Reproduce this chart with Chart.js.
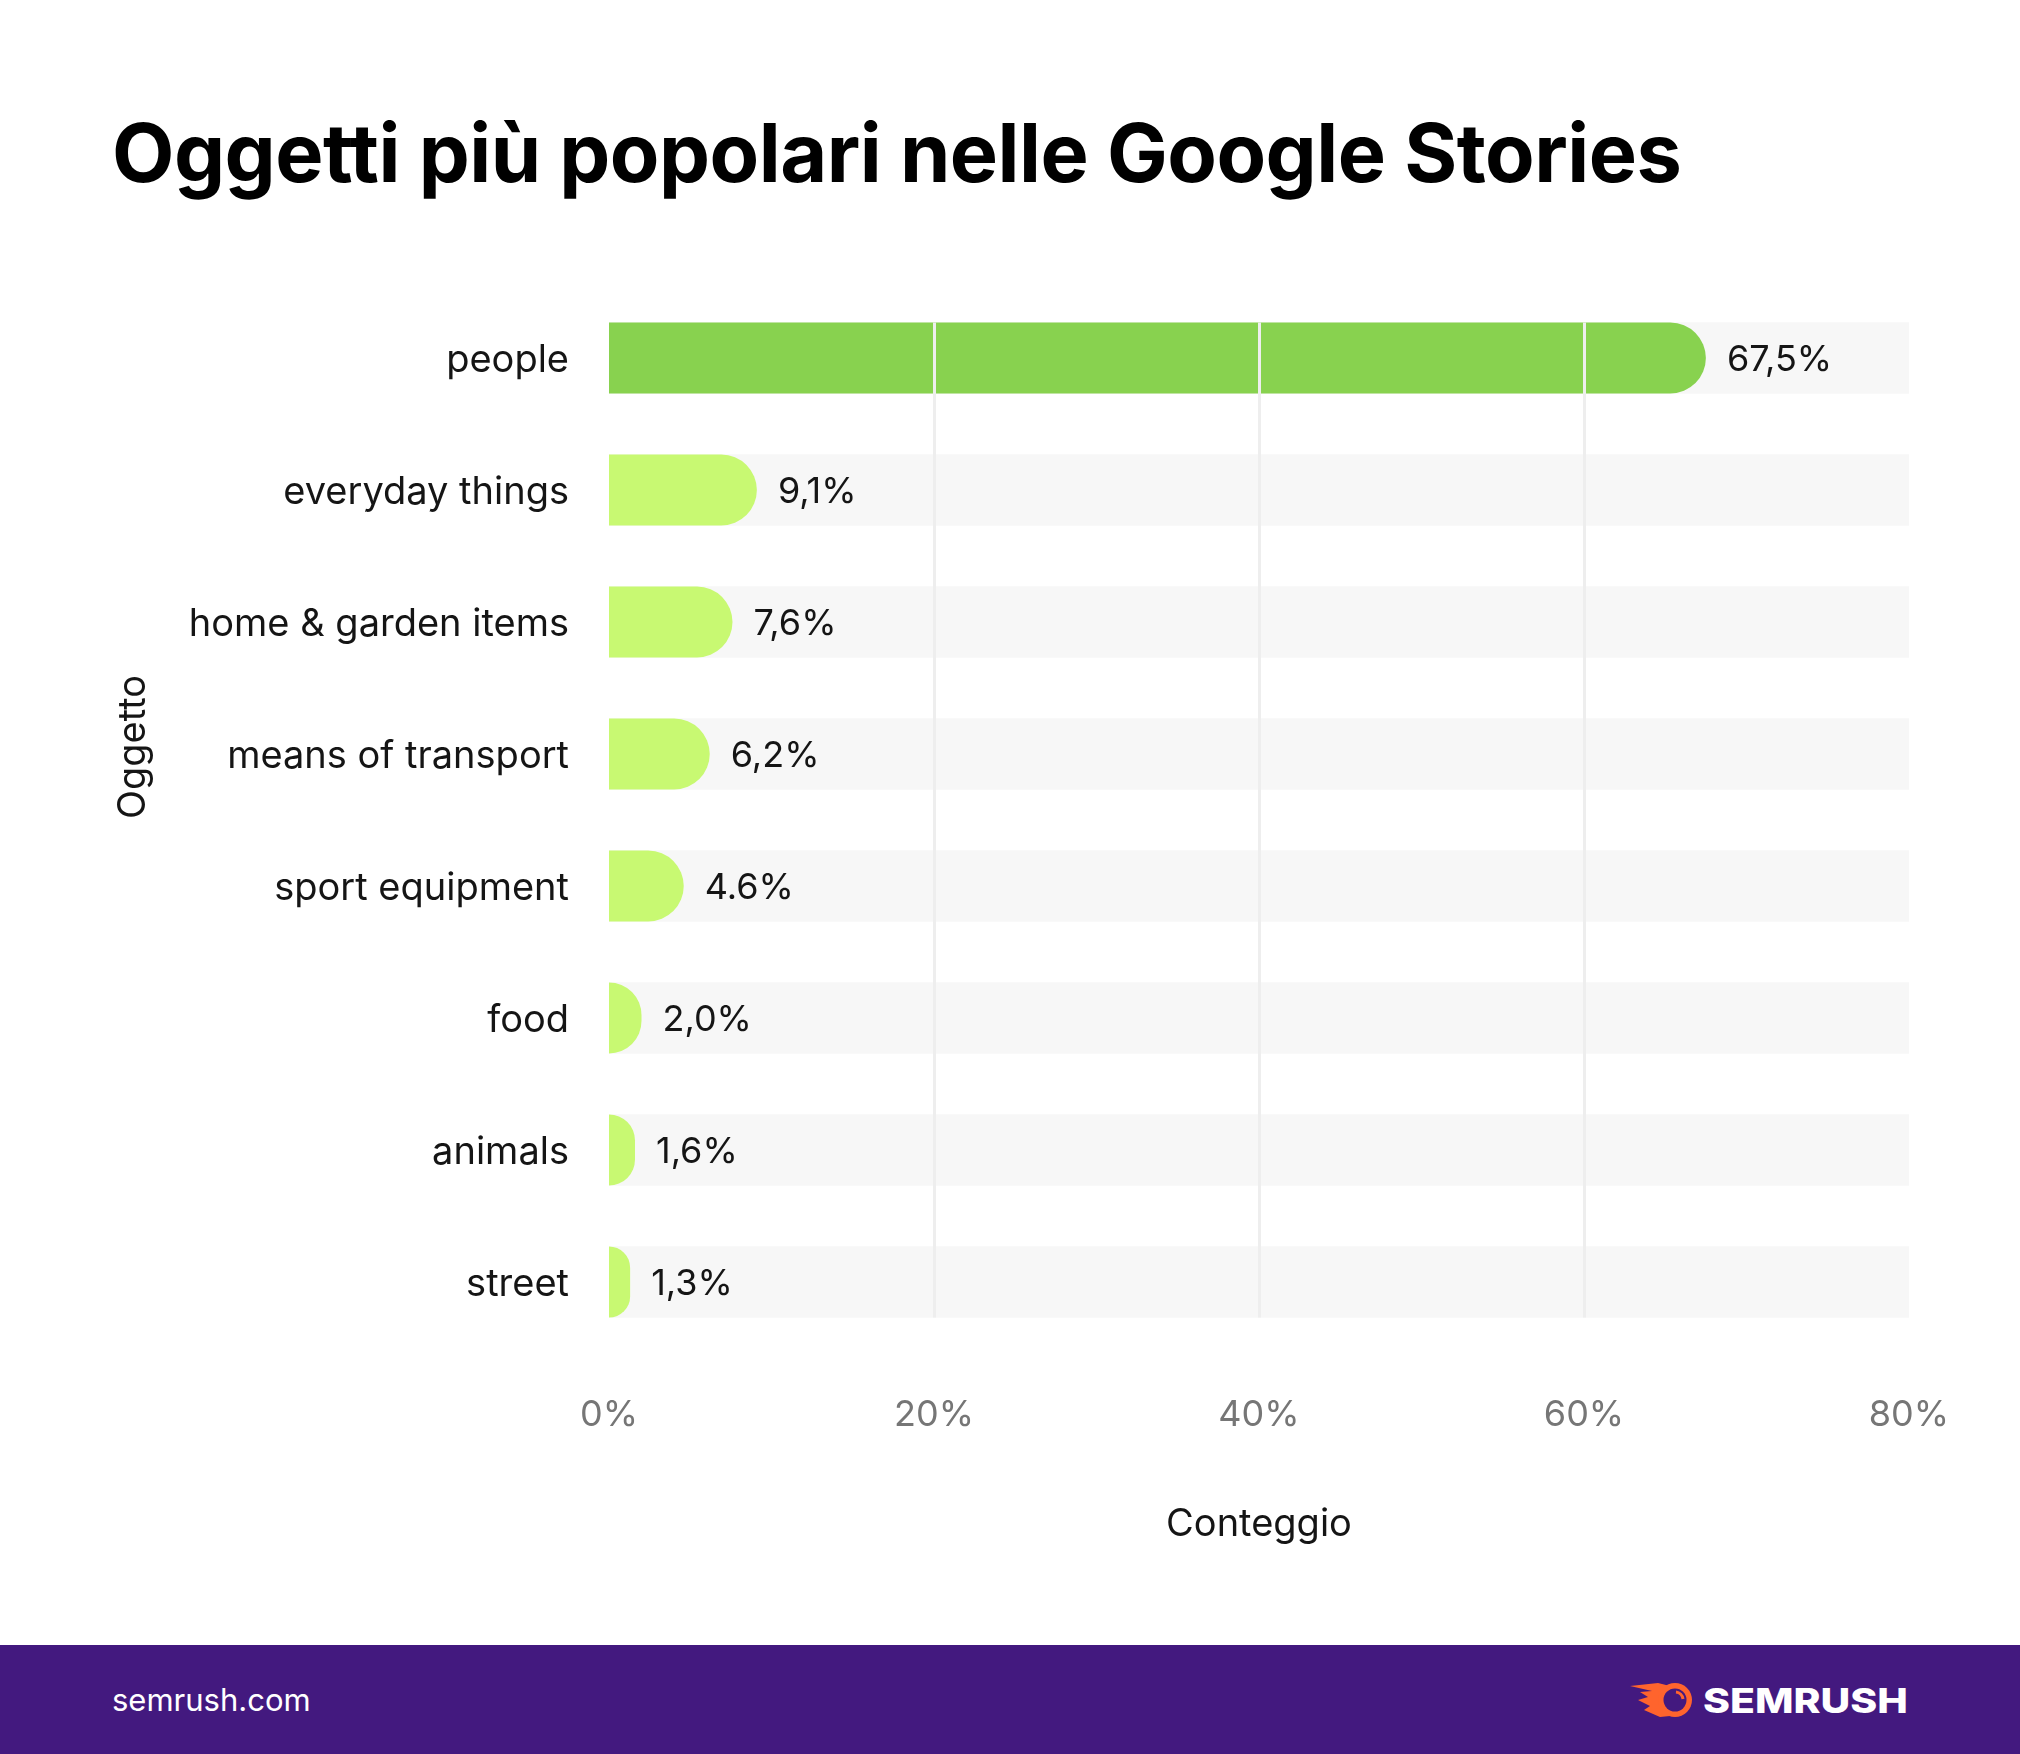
<!DOCTYPE html>
<html>
<head>
<meta charset="utf-8">
<script src="https://cdn.jsdelivr.net/npm/chart.js@4.4.1/dist/chart.umd.min.js"></script>
<style>
    html, body { margin: 0; padding: 0; background: #fff; }
    body { width: 2020px; height: 1754px; position: relative; overflow: hidden; font-family: Inter, 'Noto Sans', sans-serif; }
    h1 { position: absolute; left: 112px; top: 113px; margin: 0; font-size: 81px; line-height: 1; font-weight: 700; color: #000; letter-spacing: -0.5px; white-space: nowrap; }
    #wrap { position: absolute; left: 0; top: 0; width: 2020px; height: 1645px; }
    footer { position: absolute; left: 0; top: 1645px; width: 2020px; height: 109px; background: #43197f; }
    footer .site { position: absolute; left: 112px; top: 36px; font-size: 31px; line-height: 38px; color: #fff; }
    footer svg { position: absolute; left: 1630px; top: 35px; }
</style>
</head>
<body>
<h1>Oggetti più popolari nelle Google Stories</h1>
<div id="wrap"><canvas id="chart"></canvas></div>
<footer>
    <div class="site">semrush.com</div>
    <svg width="280" height="40" viewBox="0 0 280 40">
        <path d="M0 6 L28 3 L40 6 L44 20 L40 36 L30 37 L14 30 L20 26 L8 20 L18 17 L10 12 L22 11 Z" fill="#ff642d"/>
        <circle cx="45" cy="20" r="17" fill="#ff642d"/>
        <circle cx="45" cy="20" r="11.5" fill="#43197f"/>
        <path d="M46 12 A8 8 0 0 1 53 19" stroke="#ff642d" stroke-width="3" fill="none"/>
        <text x="73" y="33" font-family="Inter" font-size="34" font-weight="800" fill="#fff" textLength="205" lengthAdjust="spacingAndGlyphs">SEMRUSH</text>
    </svg>
</footer>
<script>
const categories = ['people', 'everyday things', 'home & garden items', 'means of transport', 'sport equipment', 'food', 'animals', 'street'];
const shares = [67.5, 9.1, 7.6, 6.2, 4.6, 2.0, 1.6, 1.3];
const shareLabels = ['67,5%', '9,1%', '7,6%', '6,2%', '4.6%', '2,0%', '1,6%', '1,3%'];
const trackValues = [80, 80, 80, 80, 80, 80, 80, 80];
const xTicks = [0, 20, 40, 60, 80];
const gridValues = [20, 40, 60];

const barColors = shares.map((v, i) => (i === 0 ? '#88d24f' : '#c8f972'));
const textColor = '#151515';

const canvas = document.getElementById('chart');
canvas.width = 2020;
canvas.height = 1645;

// rounded end like the original: corner radius may exceed half the bar length
const roundedBars = {
    id: 'roundedBars',
    beforeDatasetDraw(chart, args) {
        if (args.index !== 1) {
            return;
        }
        const { ctx } = chart;
        args.meta.data.forEach((bar, i) => {
            const { x, y, base, height } = bar.getProps(['x', 'y', 'base', 'height']);
            const top = y - height / 2;
            const bottom = y + height / 2;
            const r = Math.min(height / 2, x - base);
            ctx.save();
            ctx.fillStyle = barColors[i];
            ctx.beginPath();
            ctx.moveTo(base, top);
            ctx.lineTo(x - r, top);
            ctx.arcTo(x, top, x, top + r, r);
            ctx.lineTo(x, bottom - r);
            ctx.arcTo(x, bottom, x - r, bottom, r);
            ctx.lineTo(base, bottom);
            ctx.closePath();
            ctx.fill();
            ctx.restore();
        });
        return false;
    },
};

// grid lines only span the tracks, drawn over the bars
const gridOverlay = {
    id: 'gridOverlay',
    afterDatasetsDraw(chart) {
        const { ctx, scales } = chart;
        const rows = chart.getDatasetMeta(0).data;
        const top = rows[0].y - rows[0].height / 2;
        const bottom = rows[rows.length - 1].y + rows[rows.length - 1].height / 2;
        ctx.save();
        ctx.strokeStyle = '#eeeeee';
        ctx.lineWidth = 3;
        gridValues.forEach((v) => {
            const x = Math.round(scales.x.getPixelForValue(v)) + 0.5;
            ctx.beginPath();
            ctx.moveTo(x, top);
            ctx.lineTo(x, bottom);
            ctx.stroke();
        });
        ctx.restore();
    },
};

const valueLabels = {
    id: 'valueLabels',
    afterDraw(chart) {
        const { ctx } = chart;
        const bars = chart.getDatasetMeta(1).data;
        ctx.save();
        ctx.font = '36px Inter';
        ctx.fillStyle = textColor;
        ctx.textAlign = 'left';
        ctx.textBaseline = 'middle';
        bars.forEach((bar, i) => ctx.fillText(shareLabels[i], bar.x + 21, bar.y + 2));

        // y axis title, placed as in the original
        ctx.font = '38px Inter';
        ctx.translate(134, 747);
        ctx.rotate(-Math.PI / 2);
        ctx.textAlign = 'center';
        ctx.fillText('Oggetto', 0, 0);
        ctx.restore();
    },
};

new Chart(canvas, {
    type: 'bar',
    data: {
        labels: categories,
        datasets: [
            {
                label: 'track',
                data: trackValues,
                backgroundColor: '#f7f7f7',
                barThickness: 71,
                grouped: false,
                order: 2,
            },
            {
                label: 'Conteggio',
                data: shares,
                backgroundColor: barColors,
                barThickness: 71,
                grouped: false,
                order: 1,
            },
        ],
    },
    options: {
        indexAxis: 'y',
        responsive: false,
        animation: false,
        events: [],
        layout: { padding: { top: 292, right: 111, bottom: 0, left: 0 } },
        plugins: { legend: { display: false }, tooltip: { enabled: false } },
        scales: {
            x: {
                min: 0,
                max: 80,
                afterBuildTicks: (scale) => { scale.ticks = xTicks.map((v) => ({ value: v })); },
                afterFit: (scale) => { scale.height = 297; },
                grid: { display: false, drawTicks: false },
                border: { display: false },
                ticks: { color: '#767676', font: { family: 'Inter', size: 36 }, padding: 46, maxRotation: 0, callback: (v) => v + '%' },
                title: { display: true, text: 'Conteggio', color: textColor, font: { family: 'Inter', size: 38 }, padding: { top: 0, bottom: 98 } },
            },
            y: {
                afterFit: (scale) => { scale.width = 609; },
                grid: { display: false, drawTicks: false },
                border: { display: false },
                ticks: { color: textColor, font: { family: 'Inter', size: 38 }, padding: 40, labelOffset: 3 },
            },
        },
    },
    plugins: [roundedBars, gridOverlay, valueLabels],
});
</script>
</body>
</html>
